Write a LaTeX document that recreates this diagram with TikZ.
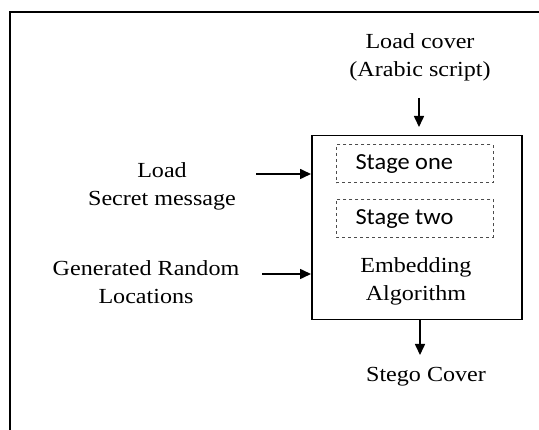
\documentclass[tikz,border=0pt]{standalone}
\usepackage{fontspec}
\setmainfont{Liberation Serif}[FakeStretch=1.12]
\newfontfamily\stagefont{Carlito}[FakeStretch=1.06]
\usetikzlibrary{arrows.meta}
\begin{document}
\begin{tikzpicture}[x=1pt,y=-1pt,
  lbl/.style={align=center,font=\fontsize{21.5}{28}\selectfont,inner sep=0pt},
  stagebox/.style={draw=black!70,dashed,line width=0.9pt,minimum width=157pt,minimum height=38pt,anchor=north west,inner sep=0pt},
  stagetext/.style={font=\stagefont\fontsize{23}{26}\selectfont},
  arr/.style={line width=1.6pt,-{Triangle[length=11pt,width=10pt]}}]
\useasboundingbox (0,0) rectangle (539,430);
% outer frame (partly visible)
\draw[line width=2pt] (10,432) -- (10,12) -- (541,12);
% main box
\node[draw,line width=1.5pt,minimum width=210pt,minimum height=184pt,anchor=north west,inner sep=0pt] (main) at (311,135) {};
\node[stagebox] (s1) at (336,144.5) {};
\node[stagetext,anchor=west] (s1t) at (352,164) {Stage one};
\node[stagebox] (s2) at (336,199) {};
\node[stagetext,anchor=west] (s2t) at (352,219) {Stage two};
\node[lbl] (emb) at (416,281) {Embedding\\Algorithm};
% labels
\node[lbl] (cover) at (420,57) {Load cover\\(Arabic script)};
\node[lbl] (secret) at (162,186) {Load\\Secret message};
\node[lbl] (rand) at (146,282) {Generated Random\\Locations};
\node[lbl] (stego) at (426,377) {Stego Cover};
% arrows
\coordinate (ctop) at (419,98);
\coordinate (ctopend) at (419,127);
\coordinate (cbot) at (420,355);
\coordinate (csec) at (256,174);
\coordinate (crand) at (262,274);
\draw[arr] (ctop) -- (ctopend);
\draw[arr] (main.south -| cbot) -- (cbot);
\draw[arr] (csec) -- (csec -| main.west);
\draw[arr] (crand) -- (crand -| main.west);
\end{tikzpicture}
\end{document}
